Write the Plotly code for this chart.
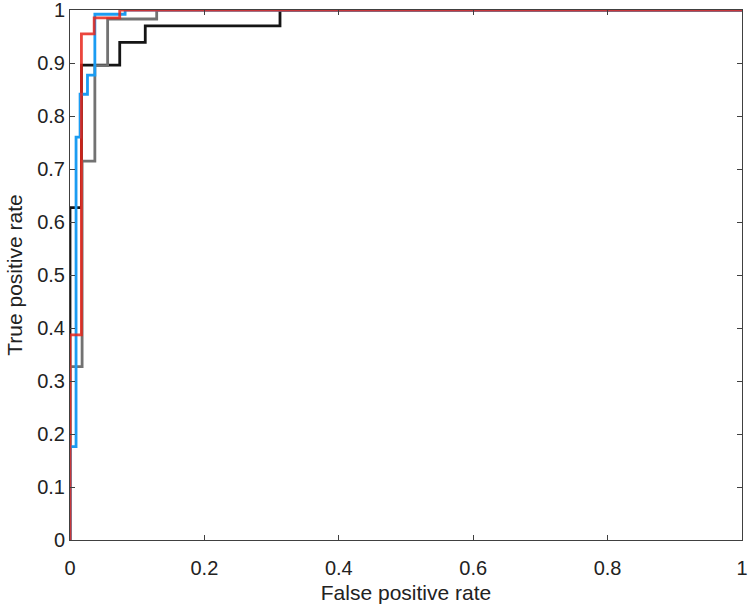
import plotly.graph_objects as go

# ROC curves (false positive rate, true positive rate)
black_fpr = [0, 0, 0.017, 0.017, 0.074, 0.074, 0.112, 0.112, 0.3125, 0.3125, 1]
black_tpr = [0, 0.627, 0.627, 0.896, 0.896, 0.939, 0.939, 0.970, 0.970, 1, 1]

gray_fpr = [0, 0, 0.018, 0.018, 0.037, 0.037, 0.056, 0.056, 0.129, 0.129, 1]
gray_tpr = [0, 0.327, 0.327, 0.715, 0.715, 0.895, 0.895, 0.983, 0.983, 1, 1]

blue_fpr = [0, 0, 0.009, 0.009, 0.015, 0.015, 0.026, 0.026, 0.037, 0.037, 0.082, 0.082, 1]
blue_tpr = [0, 0.176, 0.176, 0.760, 0.760, 0.841, 0.841, 0.877, 0.877, 0.992, 0.992, 1, 1]

red_fpr = [0, 0, 0.017, 0.017, 0.036, 0.036, 0.074, 0.074, 1]
red_tpr = [0, 0.387, 0.387, 0.955, 0.955, 0.985, 0.985, 1, 1]

x_ticks = [0, 0.2, 0.4, 0.6, 0.8, 1]
x_labels = ["0", "0.2", "0.4", "0.6", "0.8", "1"]
y_ticks = [0, 0.1, 0.2, 0.3, 0.4, 0.5, 0.6, 0.7, 0.8, 0.9, 1]
y_labels = ["0", "0.1", "0.2", "0.3", "0.4", "0.5", "0.6", "0.7", "0.8", "0.9", "1"]

FONT = "Liberation Sans, Arial, sans-serif"

fig = go.Figure()
series = [
    (black_fpr, black_tpr, "#151515", 1.0),
    (gray_fpr, gray_tpr, "#727272", 1.0),
    (blue_fpr, blue_tpr, "#1b9cf2", 1.0),
    (red_fpr, red_tpr, "#e8261c", 0.85),
]
for xs, ys, col, op in series:
    fig.add_trace(go.Scatter(x=xs, y=ys, mode="lines",
                             line=dict(color=col, width=2.8),
                             opacity=op, showlegend=False, cliponaxis=False,
                             hoverinfo="skip"))

axis_common = dict(
    showgrid=False, zeroline=False, showline=True, linecolor="#404040", linewidth=1,
    mirror="ticks", ticks="inside", ticklen=5, tickcolor="#404040",
    tickfont=dict(family=FONT, size=20, color="#222"),
    automargin=False, ticklabeloverflow="allow",
)
fig.update_xaxes(range=[0, 1], tickvals=x_ticks, ticktext=x_labels,
                 ticklabelstandoff=10,
                 title=dict(text="False positive rate", standoff=7,
                            font=dict(family=FONT, size=21, color="#222")),
                 **axis_common)
fig.update_yaxes(range=[0, 1], tickvals=y_ticks, ticktext=y_labels,
                 title=dict(text="True positive rate", standoff=8,
                            font=dict(family=FONT, size=21, color="#222")),
                 **axis_common)
fig.update_layout(
    width=749, height=610,
    margin=dict(l=70, r=7, t=10, b=70),
    plot_bgcolor="white", paper_bgcolor="white",
)
# remove the default page margin so the figure fills the window exactly
fig.write_html("out.html", config={"displayModeBar": False},
               post_script="document.body.style.margin='0';document.body.style.overflow='hidden';")
